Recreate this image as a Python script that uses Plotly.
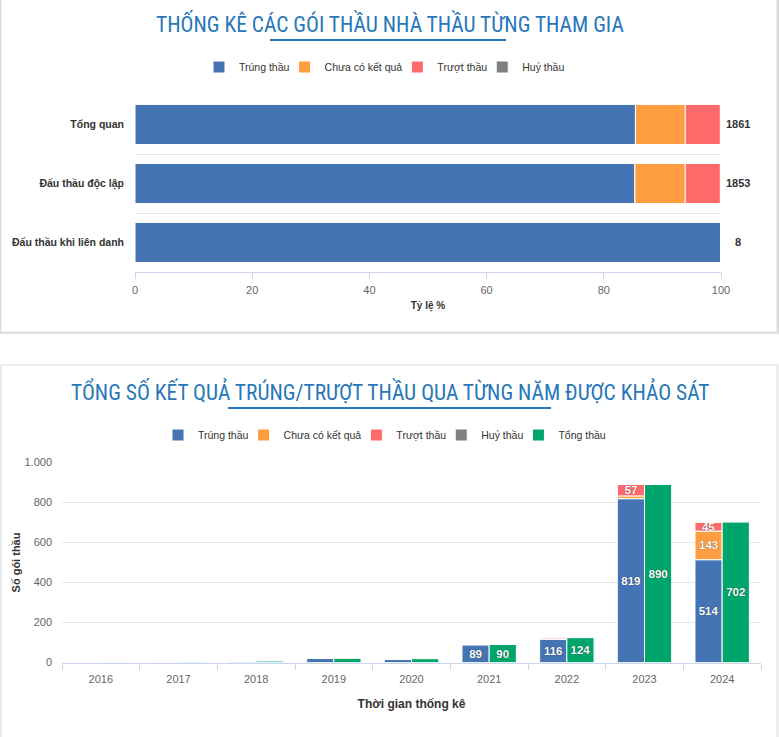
import plotly.graph_objects as go

W, H = 779, 737

# ---------------- data: top chart (percent of packages) ----------------
top_categories = ["Tổng quan", "Đấu thầu độc lập", "Đấu thầu khi liên danh"]
top_trung = [85.4, 85.3, 100.0]
top_chua = [8.5, 8.6, 0.0]
top_truot = [6.0, 6.0, 0.0]
top_huy = [0.1, 0.1, 0.0]
top_totals = [1861, 1853, 8]

# ---------------- data: bottom chart (counts per year) ----------------
years = ["2016", "2017", "2018", "2019", "2020", "2021", "2022", "2023", "2024"]
bot_trung = [1, 3, 7, 20, 15, 89, 116, 819, 514]
bot_chua = [0, 0, 0, 0, 0, 0, 0, 14, 143]
bot_truot = [0, 0, 0, 1, 4, 1, 7, 57, 45]
bot_huy = [0, 0, 0, 0, 0, 0, 1, 0, 0]
bot_tong = [1, 3, 7, 21, 19, 90, 124, 890, 702]

series_names = ["Trúng thầu", "Chưa có kết quả", "Trượt thầu", "Huỷ thầu"]
colors = ["#4574b4", "#ff9e40", "#ff6b6b", "#7f7f7f"]
green = "#00a56c"

FONT = "Liberation Sans, Arial, sans-serif"
TITLE_FONT = "Liberation Sans Narrow, Roboto Condensed, Liberation Sans, Arial, sans-serif"
TITLE_COLOR = "#2777b9"

def px_x(p):
    return p / W

def px_y(p):
    return 1 - p / H

fig = go.Figure()

# ---- top horizontal stacked bars (explicit bases) ----
top_series = [top_trung, top_chua, top_truot, top_huy]
base = [0.0] * len(top_categories)
for name, vals, col in zip(series_names, top_series, colors):
    fig.add_trace(go.Bar(
        y=top_categories, x=vals, base=list(base), orientation="h",
        name=name, marker=dict(color=col, line=dict(color="white", width=1)),
        width=0.68, xaxis="x", yaxis="y", legend="legend",
        hoverinfo="skip",
    ))
    base = [b + v for b, v in zip(base, vals)]

# ---- bottom grouped + stacked bars ----
label_font = dict(color="white", size=11.5, family=FONT, weight="bold",
                  shadow="0px 0px 1px rgba(0,0,0,0.7)")
bot_series = [bot_trung, bot_chua, bot_truot, bot_huy]
base = [0] * len(years)
for name, vals, col in zip(series_names, bot_series, colors):
    labels = [str(v) if v >= 40 else "" for v in vals]
    fig.add_trace(go.Bar(
        x=years, y=vals, base=list(base), name=name,
        marker=dict(color=col, line=dict(color="white", width=1)),
        width=0.35, offset=-0.35,
        text=labels, textposition="inside", insidetextanchor="middle",
        textangle=0, textfont=label_font,
        xaxis="x2", yaxis="y2", legend="legend2", hoverinfo="skip",
    ))
    base = [b + v for b, v in zip(base, vals)]

fig.add_trace(go.Bar(
    x=years, y=bot_tong, base=[0] * len(years), name="Tổng thầu",
    marker=dict(color=green, line=dict(color="white", width=1)),
    width=0.35, offset=0.0,
    text=[str(v) if v >= 40 else "" for v in bot_tong],
    textposition="inside", insidetextanchor="middle", textangle=0,
    textfont=label_font,
    xaxis="x2", yaxis="y2", legend="legend2", hoverinfo="skip",
))

axis_line = "#ccd6eb"
grid = "#e6e6e6"

annotations = []
# totals at right of top bars
for cat, tot in zip(top_categories, top_totals):
    annotations.append(dict(
        x=100, y=cat, xref="x", yref="y", text=str(tot), showarrow=False,
        xanchor="center", xshift=17,
        font=dict(family=FONT, size=11, color="#333333", weight="bold"),
    ))

# titles
annotations.append(dict(
    x=0.5, y=px_y(24), xref="paper", yref="paper", showarrow=False,
    text="THỐNG KÊ CÁC GÓI THẦU NHÀ THẦU TỪNG THAM GIA",
    font=dict(family=TITLE_FONT, size=21.5, color=TITLE_COLOR),
    xanchor="center", yanchor="middle",
))
annotations.append(dict(
    x=0.5, y=px_y(391), xref="paper", yref="paper", showarrow=False,
    text="TỔNG SỐ KẾT QUẢ TRÚNG/TRƯỢT THẦU QUA TỪNG NĂM ĐƯỢC KHẢO SÁT",
    font=dict(family=TITLE_FONT, size=21.5, color=TITLE_COLOR),
    xanchor="center", yanchor="middle",
))

shapes = []
# card shadows + cards
for i, a in enumerate([0.10, 0.06, 0.03]):
    d = i + 1
    shapes.append(dict(type="rect", xref="paper", yref="paper", layer="below",
                       x0=px_x(0), x1=px_x(778 + d * 0.5), y0=px_y(332 + d), y1=1.0,
                       line=dict(width=0), fillcolor=f"rgba(0,0,0,{a})"))
    shapes.append(dict(type="rect", xref="paper", yref="paper", layer="below",
                       x0=px_x(0), x1=px_x(778 + d * 0.5), y0=0.0, y1=px_y(365 - d * 0.3),
                       line=dict(width=0), fillcolor=f"rgba(0,0,0,{a * 0.4})"))
shapes.append(dict(type="rect", xref="paper", yref="paper", layer="below",
                   x0=px_x(1), x1=px_x(777), y0=px_y(332), y1=1.01,
                   line=dict(color="#e3e3e3", width=1), fillcolor="white"))
shapes.append(dict(type="rect", xref="paper", yref="paper", layer="below",
                   x0=px_x(1), x1=px_x(777), y0=-0.01, y1=px_y(365),
                   line=dict(color="#e3e3e3", width=1), fillcolor="white"))
# title underlines
shapes.append(dict(type="line", xref="paper", yref="paper",
                   x0=px_x(270), x1=px_x(506), y0=px_y(40), y1=px_y(40),
                   line=dict(color=TITLE_COLOR, width=2)))
shapes.append(dict(type="line", xref="paper", yref="paper",
                   x0=px_x(228), x1=px_x(551), y0=px_y(408), y1=px_y(408),
                   line=dict(color=TITLE_COLOR, width=2)))

legend_common = dict(
    orientation="h", xanchor="center", yanchor="middle",
    font=dict(size=10.5, color="#333333"), itemwidth=30, bgcolor="rgba(0,0,0,0)",
    traceorder="normal", tracegroupgap=0, indentation=-10,
)

fig.update_layout(
    width=W, height=H, autosize=False,
    margin=dict(l=0, r=0, t=0, b=0, pad=0, autoexpand=False),
    paper_bgcolor="white", plot_bgcolor="rgba(0,0,0,0)",
    barmode="overlay",
    separators=",.",
    font=dict(family=FONT, size=11, color="#333333"),
    showlegend=True,
    uniformtext=dict(minsize=11.5, mode="show"),
    xaxis=dict(
        domain=[px_x(135), px_x(721)], anchor="y", range=[0, 100],
        tickvals=[0, 20, 40, 60, 80, 100], showgrid=False, zeroline=False,
        showline=True, linecolor=axis_line, linewidth=1,
        ticks="outside", ticklen=6, tickcolor=axis_line,
        tickfont=dict(size=11, color="#666666"), ticklabelstandoff=2,
        title=dict(text="Tỷ lệ %", font=dict(size=10, color="#333333", weight="bold"),
                   standoff=6),
        automargin=False,
    ),
    yaxis=dict(
        domain=[px_y(272), px_y(95)], anchor="x", type="category",
        autorange=False, range=[2.5, -0.5], tickson="boundaries",
        showgrid=True, gridcolor=grid, ticks="", showline=False, zeroline=False,
        tickfont=dict(size=10.5, color="#333333", weight="bold"),
        ticklabelstandoff=10, automargin=False,
    ),
    xaxis2=dict(
        domain=[px_x(62), px_x(761)], anchor="y2", type="category",
        tickson="boundaries", showgrid=False, zeroline=False,
        showline=True, linecolor=axis_line, linewidth=1,
        ticks="outside", ticklen=6, tickcolor=axis_line,
        tickfont=dict(size=11, color="#666666"), ticklabelstandoff=6,
        title=dict(text="Thời gian thống kê", font=dict(size=12, color="#333333", weight="bold"),
                   standoff=15),
        automargin=False,
    ),
    yaxis2=dict(
        domain=[px_y(662.5), px_y(462.5)], anchor="x2", range=[0, 1000],
        tickvals=[0, 200, 400, 600, 800, 1000], tickformat=",",
        showgrid=True, gridcolor=grid, zeroline=False, showline=False,
        tickfont=dict(size=11, color="#666666"), ticklabelstandoff=9,
        title=dict(text="Số gói thầu", font=dict(size=11, color="#333333", weight="bold"),
                   standoff=1),
        automargin=False,
    ),
    legend=dict(legend_common, x=0.5, y=px_y(67)),
    legend2=dict(legend_common, x=0.5, y=px_y(435)),
    annotations=annotations,
    shapes=shapes,
)

fig.write_html(
    "out.html",
    config={"displayModeBar": False, "responsive": False},
    post_script="document.body.style.margin='0';document.body.style.overflow='hidden';"
                "document.documentElement.style.overflow='hidden';",
)
